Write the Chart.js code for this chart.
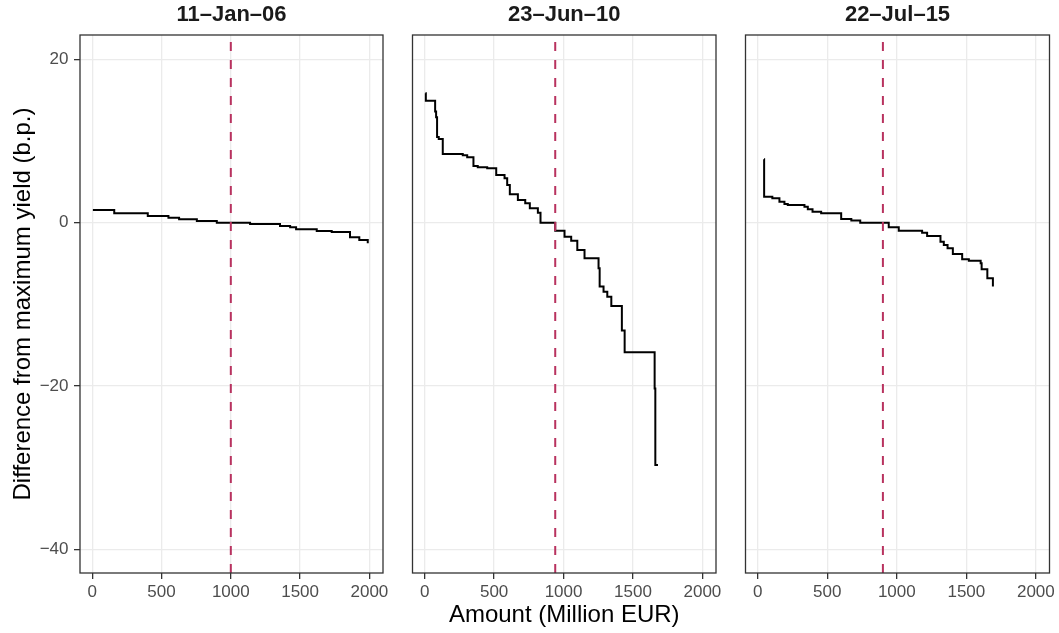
<!DOCTYPE html>
<html>
<head>
<meta charset="utf-8">
<script src="https://cdn.jsdelivr.net/npm/chart.js@4.4.1/dist/chart.umd.min.js"></script>
<style>
  html, body { margin: 0; padding: 0; background: #fff; }
  #wrap { position: relative; width: 1059px; height: 633px; overflow: hidden; }
  #wrap canvas { position: absolute; top: 0; }
</style>
</head>
<body>
<div id="wrap">
  <canvas id="panel-1" width="395" height="633" style="left:0px"></canvas>
  <canvas id="panel-2" width="340" height="633" style="left:390px"></canvas>
  <canvas id="panel-3" width="329" height="633" style="left:730px"></canvas>
</div>
<script>
/* auction yield steps, one facet per auction date */
const panelTitles = ['11–Jan–06', '23–Jun–10', '22–Jul–15'];

const amountJan06 = [5, 159, 401, 550, 627, 755, 899, 1139, 1355, 1428, 1471, 1620, 1728, 1860, 1927, 1988];
const diffJan06   = [1.55, 1.15, 0.82, 0.61, 0.41, 0.2, 0, -0.16, -0.4, -0.57, -0.81, -1.02, -1.14, -1.79, -2.12, -2.52];

const amountJun10 = [5, 8, 75, 82, 89, 101, 130, 274, 306, 351, 382, 450, 515, 575, 594, 613, 671, 724, 757, 815,
                     834, 940, 1007, 1055, 1099, 1151, 1252, 1260, 1288, 1315, 1344, 1420, 1440, 1656, 1661, 1680];
const diffJun10   = [15.84, 14.94, 13.6, 12.9, 10.5, 10.24, 8.4, 8.25, 8.0, 6.94, 6.78, 6.66, 5.84, 5.43, 4.61, 3.47,
                     2.78, 2.37, 1.76, 1.22, 0, -0.98, -1.71, -2.2, -3.34, -4.36, -5.58, -7.83, -8.45, -9.06, -10.2,
                     -13.2, -15.86, -20.3, -29.66, -29.66];

const amountJul15 = [45, 46, 105, 156, 192, 216, 336, 360, 394, 456, 600, 673, 737, 942, 1014, 1182, 1218, 1314,
                     1338, 1365, 1403, 1470, 1518, 1603, 1610, 1651, 1691];
const diffJul15   = [7.76, 3.18, 2.98, 2.57, 2.29, 2.17, 1.96, 1.64, 1.35, 1.15, 0.45, 0.25, 0, -0.57, -0.98, -1.22,
                     -1.63, -2.33, -2.73, -3.13, -3.83, -4.48, -4.65, -4.97, -5.7, -6.8, -7.83];

const cutoffAmounts = [1000, 940, 900];

const xTicks = [0, 500, 1000, 1500, 2000];
const yTicks = [-40, -20, 0, 20];
const xRange = [-88, 2098];
const yRange = [-42.9, 22.98];

const amounts = [amountJan06, amountJun10, amountJul15];
const diffs = [diffJan06, diffJun10, diffJul15];

Chart.defaults.font.family = '"Liberation Sans", Arial, Helvetica, sans-serif';
Chart.defaults.color = '#4D4D4D';

const GRID = '#EBEBEB', INK = '#333333', CUT = '#B8325F';

// plain numbers, unicode minus like R
const fmt = v => (v < 0 ? '\u2212' + Math.abs(v) : String(v));

// ggplot-like panel border, drawn over the data
const panelBorder = {
  id: 'panelBorder',
  afterDraw(chart) {
    const { ctx, chartArea: a } = chart;
    ctx.save();
    ctx.strokeStyle = INK;
    ctx.lineWidth = 1.3;
    ctx.strokeRect(a.left, a.top, a.right - a.left, a.bottom - a.top);
    ctx.restore();
  }
};

// canvas-local padding so the three panels line up like facets
const pads = [
  { left: 0, right: 12 },
  { left: 22.5, right: 14 },
  { left: 15.5, right: 9.5 }
];

const buildPanel = (i) => {
  const first = i === 0;
  const steps = amounts[i].map((x, k) => ({ x, y: diffs[i][k] }));
  const cutLine = yRange.map(y => ({ x: cutoffAmounts[i], y }));

  return new Chart(document.getElementById(`panel-${i + 1}`), {
    type: 'line',
    data: {
      datasets: [
        {
          data: cutLine,
          borderColor: CUT,
          borderWidth: 2,
          borderDash: [9, 9],
          pointRadius: 0,
          order: 0
        },
        {
          data: steps,
          stepped: true,
          borderColor: '#000000',
          borderWidth: 2,
          pointRadius: 0,
          fill: false,
          order: 1
        }
      ]
    },
    options: {
      responsive: false,
      animation: false,
      events: [],
      layout: { padding: { left: pads[i].left, right: pads[i].right, top: 0, bottom: 0 } },
      plugins: {
        legend: { display: false },
        tooltip: { enabled: false },
        title: {
          display: true,
          fullSize: false,
          text: panelTitles[i],
          color: '#1A1A1A',
          font: { size: 22, weight: 'bold' },
          padding: { top: 1.6, bottom: 7 }
        }
      },
      scales: {
        x: {
          type: 'linear',
          min: xRange[0],
          max: xRange[1],
          afterBuildTicks: s => { s.ticks = xTicks.map(v => ({ value: v })); },
          afterFit: s => { s.height = 60; },
          ticks: { color: '#4D4D4D', font: { size: 17 }, padding: 2.9, maxRotation: 0, autoSkip: false, callback: fmt },
          grid: { color: GRID, lineWidth: 1.3, tickColor: INK, tickLength: 6 },
          border: { display: false },
          title: {
            display: i === 1,
            text: 'Amount (Million EUR)',
            color: '#000000',
            font: { size: 24 },
            padding: { top: 0, bottom: 3.6 }
          }
        },
        y: {
          type: 'linear',
          min: yRange[0],
          max: yRange[1],
          afterBuildTicks: s => { s.ticks = yTicks.map(v => ({ value: v })); },
          afterFit: s => { s.width = first ? 80 : 0; },
          ticks: { display: first, color: '#4D4D4D', font: { size: 17 }, padding: 5.5, callback: fmt },
          grid: { color: GRID, lineWidth: 1.3, tickColor: INK, tickLength: 6, drawTicks: first },
          border: { display: false },
          title: {
            display: first,
            text: 'Difference from maximum yield (b.p.)',
            color: '#000000',
            font: { size: 24 },
            padding: { top: 8.5, bottom: 0 }
          }
        }
      }
    },
    plugins: [panelBorder]
  });
};

panelTitles.forEach((_, i) => buildPanel(i));
</script>
</body>
</html>
